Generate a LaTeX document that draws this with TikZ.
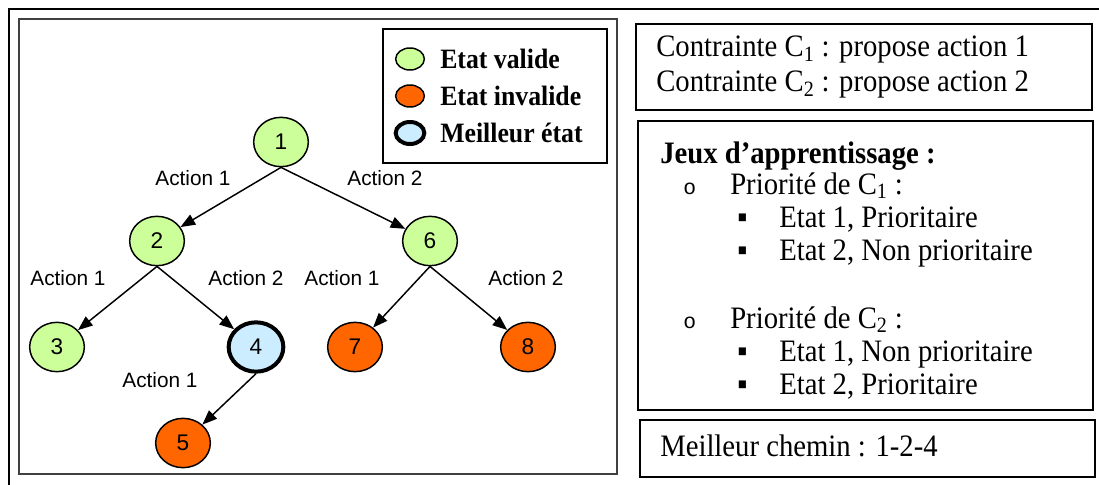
\documentclass[tikz,border=0pt]{standalone}
\usepackage{fontspec}
\setmainfont{Liberation Serif}[FakeStretch=0.92]
\newfontfamily\arialfont{Liberation Sans}
\newfontfamily\courfont{Liberation Mono}
\usetikzlibrary{shapes.geometric,arrows.meta}
\definecolor{valide}{RGB}{204,255,153}
\definecolor{invalide}{RGB}{255,102,0}
\definecolor{meilleur}{RGB}{204,236,255}
\tikzstyle{Etat}=[ellipse, draw=black, line width=1.1pt, minimum width=41pt, minimum height=37pt, inner sep=0pt, font=\arialfont\fontsize{17}{17}\selectfont]
\tikzstyle{Valide}=[Etat, fill=valide]
\tikzstyle{Invalide}=[Etat, fill=invalide]
\tikzstyle{Meilleur}=[Etat, fill=meilleur, line width=3pt]
\tikzstyle{Legende}=[ellipse, draw=black, line width=1.1pt, minimum width=21.5pt, minimum height=16.5pt, inner sep=0pt]
\tikzstyle{Action}=[inner sep=0pt, font=\arialfont\fontsize{15.6}{16}\selectfont]
\tikzstyle{Fleche}=[-{Triangle[length=11pt,width=8.5pt]}, line width=1.1pt]
\tikzstyle{Cadre}=[draw=black, line width=1.5pt]
\tikzstyle{Ligne}=[anchor=base west, inner sep=0pt, font=\fontsize{23.4}{25}\selectfont]

\begin{document}
\begin{tikzpicture}[x=0.75pt, y=-0.75pt]
    \useasboundingbox (0,0) rectangle (1099,485);
    \draw[line width=2.2pt] (9,485) -- (9,9) -- (1099,9);
    \draw[Cadre, draw=black!75] (19,19) rectangle (617,474);
    \draw[Cadre, line width=2.2pt] (383,29) rectangle (607,163);
    \draw[Cadre] (636,24) rectangle (1092,110);
    \draw[Cadre] (638,121) rectangle (1093,410);
    \draw[Cadre] (640,420) rectangle (1095,477);

    % legende
    \path
    (410,59) node[Legende, fill=valide] (lv) {}
    (410,96) node[Legende, fill=invalide] (li) {}
    (410,133) node[Legende, fill=meilleur, line width=3pt] (lm) {};
    \path[every node/.style={anchor=west, inner sep=0pt, font=\bfseries\fontsize{21}{22}\selectfont}]
    (440,59) node (tv) {Etat valide}
    (440,96) node (ti) {Etat invalide}
    (440,133) node (tm) {Meilleur état};

    % arbre
    \path
    (281,142) node[Valide] (e1) {1}
    (157,241) node[Valide] (e2) {2}
    (430,241) node[Valide] (e6) {6}
    (57,347) node[Valide] (e3) {3}
    (256,347) node[Meilleur] (e4) {4}
    (355,347) node[Invalide] (e7) {7}
    (528,347) node[Invalide] (e8) {8}
    (183,443) node[Invalide] (e5) {5};

    \path
    (193,178) node[Action] (a12) {Action 1}
    (385,178) node[Action] (a16) {Action 2}
    (68,278) node[Action] (a23) {Action 1}
    (246,278) node[Action] (a24) {Action 2}
    (342,278) node[Action] (a67) {Action 1}
    (526,278) node[Action] (a68) {Action 2}
    (160,380) node[Action] (a45) {Action 1};

    \draw[Fleche] (e1.south) -- (e2);
    \draw[Fleche] (e1.south) -- (e6);
    \draw[Fleche] (e2.south) -- (e3);
    \draw[Fleche] (e2.south) -- (e4);
    \draw[Fleche] (e6.south) -- (e7);
    \draw[Fleche] (e6.south) -- (e8);
    \draw[Fleche] (e4.south) -- (e5);

    % textes
    \path
    (656,57) node[Ligne] (c1) {Contrainte C\textsubscript{1} : propose action 1}
    (656,92) node[Ligne] (c2) {Contrainte C\textsubscript{2} : propose action 2};
    \path
    (660,163) node[Ligne, font=\bfseries\fontsize{23.4}{25}\selectfont] (jeux) {Jeux d’apprentissage :}
    (683,194) node[Ligne, font=\courfont\fontsize{16}{16}\selectfont] (o1) {o}
    (730,194) node[Ligne] (p1) {Priorité de C\textsubscript{1} :}
    (737,227) node[Ligne] (b11) {▪}
    (779,227) node[Ligne] (t11) {Etat 1, Prioritaire}
    (737,260) node[Ligne] (b12) {▪}
    (779,260) node[Ligne] (t12) {Etat 2, Non prioritaire}
    (683,328) node[Ligne, font=\courfont\fontsize{16}{16}\selectfont] (o2) {o}
    (730,328) node[Ligne] (p2) {Priorité de C\textsubscript{2} :}
    (737,361) node[Ligne] (b21) {▪}
    (779,361) node[Ligne] (t21) {Etat 1, Non prioritaire}
    (737,394) node[Ligne] (b22) {▪}
    (779,394) node[Ligne] (t22) {Etat 2, Prioritaire};
    \path
    (660,456) node[Ligne] (chemin) {Meilleur chemin : 1-2-4};
\end{tikzpicture}
\end{document}
